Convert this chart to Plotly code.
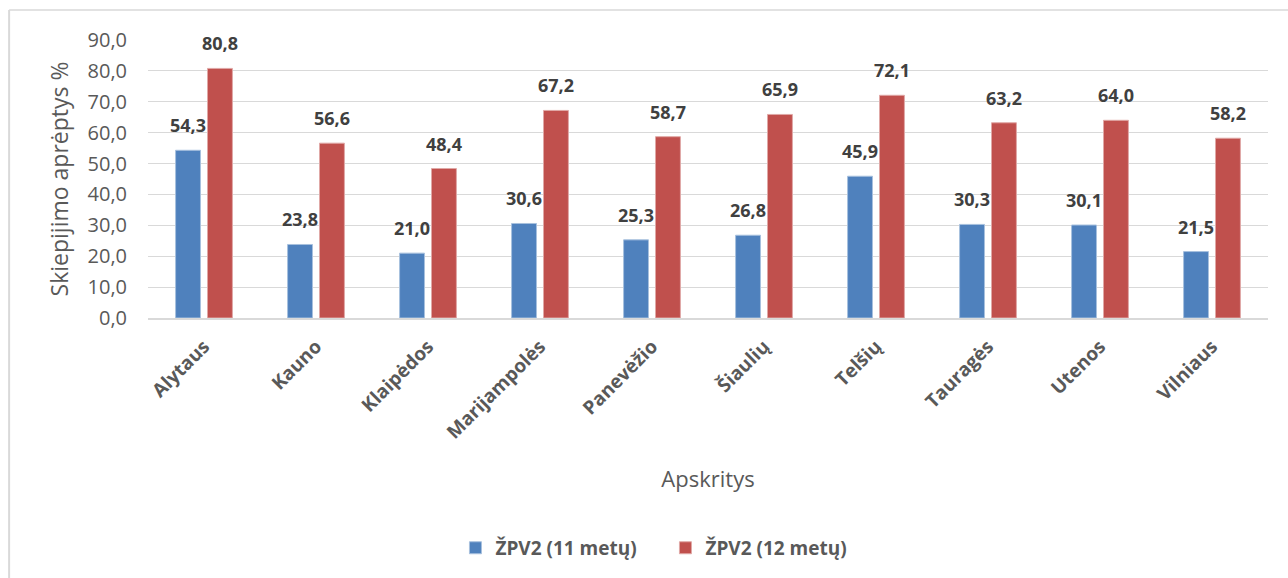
import plotly.graph_objects as go

categories = ["Alytaus", "Kauno", "Klaipėdos", "Marijampolės", "Panevėžio",
              "Šiaulių", "Telšių", "Tauragės", "Utenos", "Vilniaus"]
series_11 = [54.3, 23.8, 21.0, 30.6, 25.3, 26.8, 45.9, 30.3, 30.1, 21.5]
series_12 = [80.8, 56.6, 48.4, 67.2, 58.7, 65.9, 72.1, 63.2, 64.0, 58.2]
name_11 = "ŽPV2 (11 metų)"
name_12 = "ŽPV2 (12 metų)"
y_ticks = [0, 10, 20, 30, 40, 50, 60, 70, 80, 90]
y_tick_labels = ["0,0", "10,0", "20,0", "30,0", "40,0", "50,0", "60,0", "70,0", "80,0", "90,0"]

FONT = "Open Sans"
LBL = "#404040"
TICK = "#595959"

def fmt(v):
    return f"{v:.1f}".replace(".", ",")

fig = go.Figure()
fig.add_trace(go.Bar(x=categories, y=series_11, name=name_11,
                     marker=dict(color="#4F81BD", line=dict(color="#A7C0DE", width=1))))
fig.add_trace(go.Bar(x=categories, y=series_12, name=name_12,
                     marker=dict(color="#C0504D", line=dict(color="#E0A8A6", width=1))))

annotations = []
for cat, v in zip(categories, series_11):
    annotations.append(dict(x=cat, y=v, text=f"<b>{fmt(v)}</b>", showarrow=False,
                            xshift=-16, yshift=11, yanchor="bottom",
                            font=dict(family=FONT, size=18, color=LBL)))
for cat, v in zip(categories, series_12):
    annotations.append(dict(x=cat, y=v, text=f"<b>{fmt(v)}</b>", showarrow=False,
                            xshift=16, yshift=11, yanchor="bottom",
                            font=dict(family=FONT, size=18, color=LBL)))

fig.update_layout(
    width=1288, height=578,
    margin=dict(l=148, r=20, t=40, b=260),
    paper_bgcolor="white", plot_bgcolor="white",
    barmode="group", bargap=0.43, bargroupgap=0.22,
    font=dict(family=FONT, color=TICK),
    annotations=annotations,
    showlegend=True,
    legend=dict(orientation="h", x=0.462, xanchor="center", y=-0.827, yanchor="middle",
                font=dict(family=FONT, size=19, color=TICK, weight="bold"),
                itemwidth=30, traceorder="normal", entrywidth=165),
    shapes=[
        dict(type="line", xref="paper", yref="paper", x0=-0.124, x1=1.1, y0=1.108, y1=1.108,
             line=dict(color="#D9D9D9", width=1.5)),
        dict(type="line", xref="paper", yref="paper", x0=-0.124, x1=-0.124, y0=1.108, y1=-1.2,
             line=dict(color="#D9D9D9", width=2)),
    ],
)
fig.update_xaxes(tickangle=-45, tickfont=dict(family=FONT, size=19, color=TICK, weight="bold"),
                 showline=True, linecolor="#D9D9D9", linewidth=2, ticks="", ticklabelstandoff=8,
                 title=dict(text="Apskritys", font=dict(family=FONT, size=22, color=TICK), standoff=28))
fig.update_yaxes(range=[0, 90], tickvals=y_ticks, ticktext=y_tick_labels,
                 tickfont=dict(family=FONT, size=20, color=TICK),
                 showgrid=True, gridcolor="#D9D9D9", gridwidth=1, zeroline=False,
                 ticks="", ticklabelstandoff=20,
                 title=dict(text="Skiepijimo aprėptys %", font=dict(family=FONT, size=23, color=TICK), standoff=12))

fig.write_html("out.html")
